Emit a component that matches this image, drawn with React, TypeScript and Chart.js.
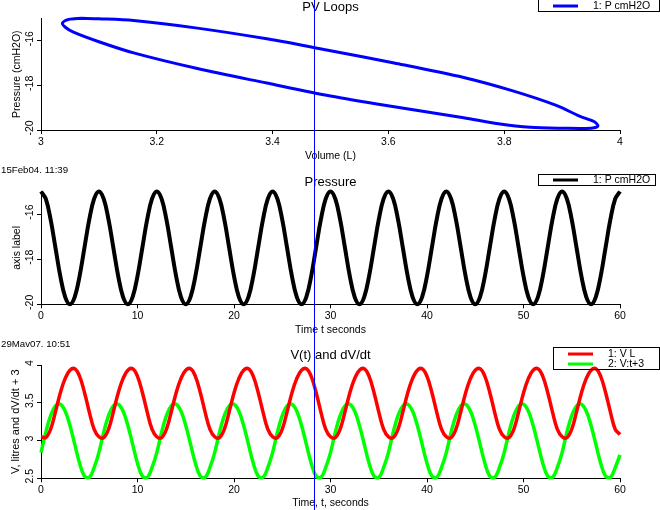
import React, { useEffect, useRef } from "react";
import { Chart, registerables } from "chart.js";

Chart.register(...registerables);

const FONT = '"Liberation Sans", Arial, Helvetica, sans-serif';

// ---- PV loop (volume L, pressure cmH2O), read along the loop ----
const pvVolume = [
  3.07, 3.048, 3.037, 3.042, 3.056, 3.1, 3.16, 3.27, 3.39, 3.5, 3.61, 3.73, 3.79, 3.845, 3.9,
  3.95, 3.962, 3.955, 3.93, 3.89, 3.815, 3.73, 3.61, 3.5, 3.39, 3.27, 3.16, 3.1, 3.07,
];
const pvPressure = [
  -15.0, -15.05, -15.22, -15.4, -15.62, -16.05, -16.55, -17.25, -17.9, -18.48, -18.96, -19.45,
  -19.72, -19.88, -19.92, -19.92, -19.82, -19.62, -19.38, -18.9, -18.25, -17.65, -17.0, -16.45,
  -15.92, -15.44, -15.1, -15.02, -15.0,
];

// ---- time base (s) ----
const timeSeconds = [
  0, 0.5, 1, 1.5, 2, 2.5, 3, 3.5, 4, 4.5, 5, 5.5,
  6, 6.5, 7, 7.5, 8, 8.5, 9, 9.5, 10, 10.5, 11, 11.5,
  12, 12.5, 13, 13.5, 14, 14.5, 15, 15.5, 16, 16.5, 17, 17.5,
  18, 18.5, 19, 19.5, 20, 20.5, 21, 21.5, 22, 22.5, 23, 23.5,
  24, 24.5, 25, 25.5, 26, 26.5, 27, 27.5, 28, 28.5, 29, 29.5,
  30, 30.5, 31, 31.5, 32, 32.5, 33, 33.5, 34, 34.5, 35, 35.5,
  36, 36.5, 37, 37.5, 38, 38.5, 39, 39.5, 40, 40.5, 41, 41.5,
  42, 42.5, 43, 43.5, 44, 44.5, 45, 45.5, 46, 46.5, 47, 47.5,
  48, 48.5, 49, 49.5, 50, 50.5, 51, 51.5, 52, 52.5, 53, 53.5,
  54, 54.5, 55, 55.5, 56, 56.5, 57, 57.5, 58, 58.5, 59, 59.5,
  60,
];

// ---- pressure (cmH2O) ----
const pressureCmH2O = [
  -15, -15.33, -16.25, -17.5, -18.75, -19.67, -20, -19.67, -18.75, -17.5, -16.25, -15.33,
  -15, -15.33, -16.25, -17.5, -18.75, -19.67, -20, -19.67, -18.75, -17.5, -16.25, -15.33,
  -15, -15.33, -16.25, -17.5, -18.75, -19.67, -20, -19.67, -18.75, -17.5, -16.25, -15.33,
  -15, -15.33, -16.25, -17.5, -18.75, -19.67, -20, -19.67, -18.75, -17.5, -16.25, -15.33,
  -15, -15.33, -16.25, -17.5, -18.75, -19.67, -20, -19.67, -18.75, -17.5, -16.25, -15.33,
  -15, -15.33, -16.25, -17.5, -18.75, -19.67, -20, -19.67, -18.75, -17.5, -16.25, -15.33,
  -15, -15.33, -16.25, -17.5, -18.75, -19.67, -20, -19.67, -18.75, -17.5, -16.25, -15.33,
  -15, -15.33, -16.25, -17.5, -18.75, -19.67, -20, -19.67, -18.75, -17.5, -16.25, -15.33,
  -15, -15.33, -16.25, -17.5, -18.75, -19.67, -20, -19.67, -18.75, -17.5, -16.25, -15.33,
  -15, -15.33, -16.25, -17.5, -18.75, -19.67, -20, -19.67, -18.75, -17.5, -16.25, -15.33,
  -15,
];

// ---- volume (L) ----
const volumeLitres = [
  3.05, 3.04, 3.15, 3.38, 3.63, 3.82, 3.93, 3.95, 3.85, 3.64, 3.38, 3.15,
  3.05, 3.04, 3.15, 3.38, 3.63, 3.82, 3.93, 3.95, 3.85, 3.64, 3.38, 3.15,
  3.05, 3.04, 3.15, 3.38, 3.63, 3.82, 3.93, 3.95, 3.85, 3.64, 3.38, 3.15,
  3.05, 3.04, 3.15, 3.38, 3.63, 3.82, 3.93, 3.95, 3.85, 3.64, 3.38, 3.15,
  3.05, 3.04, 3.15, 3.38, 3.63, 3.82, 3.93, 3.95, 3.85, 3.64, 3.38, 3.15,
  3.05, 3.04, 3.15, 3.38, 3.63, 3.82, 3.93, 3.95, 3.85, 3.64, 3.38, 3.15,
  3.05, 3.04, 3.15, 3.38, 3.63, 3.82, 3.93, 3.95, 3.85, 3.64, 3.38, 3.15,
  3.05, 3.04, 3.15, 3.38, 3.63, 3.82, 3.93, 3.95, 3.85, 3.64, 3.38, 3.15,
  3.05, 3.04, 3.15, 3.38, 3.63, 3.82, 3.93, 3.95, 3.85, 3.64, 3.38, 3.15,
  3.05, 3.04, 3.15, 3.38, 3.63, 3.82, 3.93, 3.95, 3.85, 3.64, 3.38, 3.15,
  3.08,
];

// ---- dV/dt + 3 ----
const dVdtPlus3 = [
  2.84, 3.11, 3.33, 3.46, 3.48, 3.39, 3.2, 2.95, 2.7, 2.53, 2.51, 2.64,
  2.84, 3.11, 3.33, 3.46, 3.48, 3.39, 3.2, 2.95, 2.7, 2.53, 2.51, 2.64,
  2.84, 3.11, 3.33, 3.46, 3.48, 3.39, 3.2, 2.95, 2.7, 2.53, 2.51, 2.64,
  2.84, 3.11, 3.33, 3.46, 3.48, 3.39, 3.2, 2.95, 2.7, 2.53, 2.51, 2.64,
  2.84, 3.11, 3.33, 3.46, 3.48, 3.39, 3.2, 2.95, 2.7, 2.53, 2.51, 2.64,
  2.84, 3.11, 3.33, 3.46, 3.48, 3.39, 3.2, 2.95, 2.7, 2.53, 2.51, 2.64,
  2.84, 3.11, 3.33, 3.46, 3.48, 3.39, 3.2, 2.95, 2.7, 2.53, 2.51, 2.64,
  2.84, 3.11, 3.33, 3.46, 3.48, 3.39, 3.2, 2.95, 2.7, 2.53, 2.51, 2.64,
  2.84, 3.11, 3.33, 3.46, 3.48, 3.39, 3.2, 2.95, 2.7, 2.53, 2.51, 2.64,
  2.84, 3.11, 3.33, 3.46, 3.48, 3.39, 3.2, 2.95, 2.7, 2.53, 2.51, 2.64,
  2.81,
];

// ---- ticks ----
const pvVolumeTicks = [3, 3.2, 3.4, 3.6, 3.8, 4];
const pressureTicks = [-20, -18, -16];
const timeTicks = [0, 10, 20, 30, 40, 50, 60];
const volumeTicks = [2.5, 3, 3.5, 4];

const cursorTime = 28.3;

type LegendSpec = {
  box: [number, number, number, number];
  lineX: [number, number];
  textX: number;
  firstY: number;
  rowGap: number;
};
type Decor = {
  title: string;
  titleY: number;
  stamp?: string;
  stampY?: number;
  xTitle: string;
  xTitleY: number;
  yTitle: string;
  yTitleX: number;
  yTitleSize: number;
  yTickX: number;
  legend: LegendSpec;
  cursor?: number;
};

function decorPlugin(d: Decor) {
  return {
    id: "decor",
    afterDraw(chart: any) {
      const ctx = chart.ctx as CanvasRenderingContext2D;
      const a = chart.chartArea;
      const cx = (a.left + a.right) / 2;
      const cy = (a.top + a.bottom) / 2;
      ctx.save();
      ctx.fillStyle = "#000";
      ctx.textBaseline = "alphabetic";
      // title
      ctx.font = `13px ${FONT}`;
      ctx.textAlign = "center";
      ctx.fillText(d.title, cx, d.titleY);
      // time stamp
      if (d.stamp) {
        ctx.font = `9.7px ${FONT}`;
        ctx.textAlign = "left";
        ctx.fillText(d.stamp, 1, d.stampY as number);
      }
      // x title
      ctx.font = `10.5px ${FONT}`;
      ctx.textAlign = "center";
      ctx.fillText(d.xTitle, cx, d.xTitleY);
      // y title
      ctx.save();
      ctx.font = `${d.yTitleSize}px ${FONT}`;
      ctx.translate(d.yTitleX, cy);
      ctx.rotate(-Math.PI / 2);
      ctx.fillText(d.yTitle, 0, 0);
      ctx.restore();
      // y tick labels (rotated)
      const ys = chart.scales.y;
      ctx.font = `10.5px ${FONT}`;
      for (const t of ys.ticks) {
        const p = ys.getPixelForValue(t.value);
        ctx.save();
        ctx.translate(d.yTickX, p - 2);
        ctx.rotate(-Math.PI / 2);
        ctx.textAlign = "center";
        ctx.fillText(String(t.value), 0, 0);
        ctx.restore();
      }
      // legend
      const L = d.legend;
      ctx.strokeStyle = "#000";
      ctx.lineWidth = 1;
      ctx.strokeRect(L.box[0], L.box[1], L.box[2] - L.box[0], L.box[3] - L.box[1]);
      chart.data.datasets.forEach((ds: any, i: number) => {
        const y = L.firstY + i * L.rowGap;
        ctx.strokeStyle = ds.borderColor;
        ctx.lineWidth = 3;
        ctx.beginPath();
        ctx.moveTo(L.lineX[0], y);
        ctx.lineTo(L.lineX[1], y);
        ctx.stroke();
        ctx.fillStyle = "#000";
        ctx.textAlign = "left";
        ctx.font = `10.5px ${FONT}`;
        ctx.fillText(ds.label, L.textX, y + 3.3);
      });
      // cursor line through the whole figure
      if (d.cursor !== undefined) {
        const x = Math.round(chart.scales.x.getPixelForValue(d.cursor)) + 0.5;
        ctx.strokeStyle = "#0000ff";
        ctx.lineWidth = 1;
        ctx.beginPath();
        ctx.moveTo(x, 0);
        ctx.lineTo(x, chart.height);
        ctx.stroke();
      }
      ctx.restore();
    },
  };
}

function axis(min: number, max: number, ticks: number[], isY: boolean) {
  return {
    type: "linear",
    min,
    max,
    afterBuildTicks: (s: any) => {
      s.ticks = ticks.map((v) => ({ value: v }));
    },
    afterFit: (s: any) => {
      if (isY) s.width = 41;
      else s.height = 20;
    },
    grid: {
      display: true,
      drawOnChartArea: false,
      drawTicks: true,
      tickLength: 4,
      color: "#000",
      tickColor: "#000",
      lineWidth: 1,
    },
    border: { display: true, color: "#000", width: 1 },
    ticks: isY
      ? { display: false }
      : {
          display: true,
          color: "#000",
          font: { family: FONT, size: 10.5 },
          padding: 2,
          maxRotation: 0,
          minRotation: 0,
          autoSkip: false,
          callback: (v: number) => String(v),
        },
  };
}

function makeConfig(
  datasets: any[],
  x: [number, number, number[]],
  y: [number, number, number[]],
  padTop: number,
  padBottom: number,
  decor: Decor
): any {
  return {
    type: "scatter",
    data: { datasets },
    options: {
      responsive: false,
      animation: false,
      events: [],
      devicePixelRatio: 1,
      layout: { padding: { left: 0, right: 40, top: padTop, bottom: padBottom } },
      plugins: {
        legend: { display: false },
        title: { display: false },
        tooltip: { enabled: false },
      },
      scales: {
        x: axis(x[0], x[1], x[2], false),
        y: axis(y[0], y[1], y[2], true),
      },
    },
    plugins: [decorPlugin(decor)],
  };
}

function series(label: string, xs: number[], ys: number[], color: string, width: number, tension: number) {
  return {
    label,
    data: xs.map((xv, i) => ({ x: xv, y: ys[i] })),
    showLine: true,
    pointRadius: 0,
    borderColor: color,
    backgroundColor: color,
    borderWidth: width,
    tension,
    fill: false,
    clip: false,
  };
}

export default function App() {
  const r1 = useRef<HTMLCanvasElement>(null);
  const r2 = useRef<HTMLCanvasElement>(null);
  const r3 = useRef<HTMLCanvasElement>(null);

  useEffect(() => {
    const c1 = new Chart(
      r1.current as HTMLCanvasElement,
      makeConfig(
        [series("1: P cmH2O", pvVolume, pvPressure, "#0000ff", 3, 0.3)],
        [3, 4, pvVolumeTicks],
        [-20, -15, pressureTicks],
        18.3,
        360,
        {
          title: "PV Loops",
          titleY: 11,
          xTitle: "Volume (L)",
          xTitleY: 158.5,
          yTitle: "Pressure (cmH2O)",
          yTitleX: 19.5,
          yTitleSize: 10.5,
          yTickX: 33,
          legend: { box: [538.5, -0.5, 659.5, 11.5], lineX: [553, 578], textX: 593, firstY: 6, rowGap: 0 },
        }
      )
    );
    const c2 = new Chart(
      r2.current as HTMLCanvasElement,
      makeConfig(
        [series("1: P cmH2O", timeSeconds, pressureCmH2O, "#000000", 4, 0.4)],
        [0, 60, timeTicks],
        [-20, -15, pressureTicks],
        191.5,
        185.7,
        {
          title: "Pressure",
          titleY: 185.5,
          stamp: "15Feb04. 11:39",
          stampY: 173.3,
          xTitle: "Time t seconds",
          xTitleY: 333,
          yTitle: "axis label",
          yTitleX: 20,
          yTitleSize: 10.5,
          yTickX: 33,
          legend: { box: [538.5, 174.5, 655.5, 185.5], lineX: [553, 578], textX: 593, firstY: 180, rowGap: 0 },
        }
      )
    );
    const c3 = new Chart(
      r3.current as HTMLCanvasElement,
      makeConfig(
        [
          series("1: V L", timeSeconds, volumeLitres, "#ff0000", 3.5, 0.4),
          series("2: V:t+3", timeSeconds, dVdtPlus3, "#00ff00", 3.5, 0.4),
        ],
        [0, 60, timeTicks],
        [2.5, 4, volumeTicks],
        365,
        11.7,
        {
          title: "V(t) and dV/dt",
          titleY: 358.5,
          stamp: "29Mav07. 10:51",
          stampY: 346.5,
          xTitle: "Time, t, seconds",
          xTitleY: 506,
          yTitle: "V, litres and dV/dt + 3",
          yTitleX: 19,
          yTitleSize: 11,
          yTickX: 33,
          legend: { box: [553.5, 347.5, 659.5, 369.5], lineX: [568, 593], textX: 608, firstY: 354, rowGap: 10 },
          cursor: cursorTime,
        }
      )
    );
    return () => {
      c1.destroy();
      c2.destroy();
      c3.destroy();
    };
  }, []);

  const cs: React.CSSProperties = { position: "absolute", left: 0, top: 0 };
  return (
    <div style={{ position: "absolute", left: 0, top: 0, width: 660, height: 510, background: "#fff" }}>
      <canvas ref={r1} width={660} height={510} style={cs} />
      <canvas ref={r2} width={660} height={510} style={cs} />
      <canvas ref={r3} width={660} height={510} style={cs} />
    </div>
  );
}
